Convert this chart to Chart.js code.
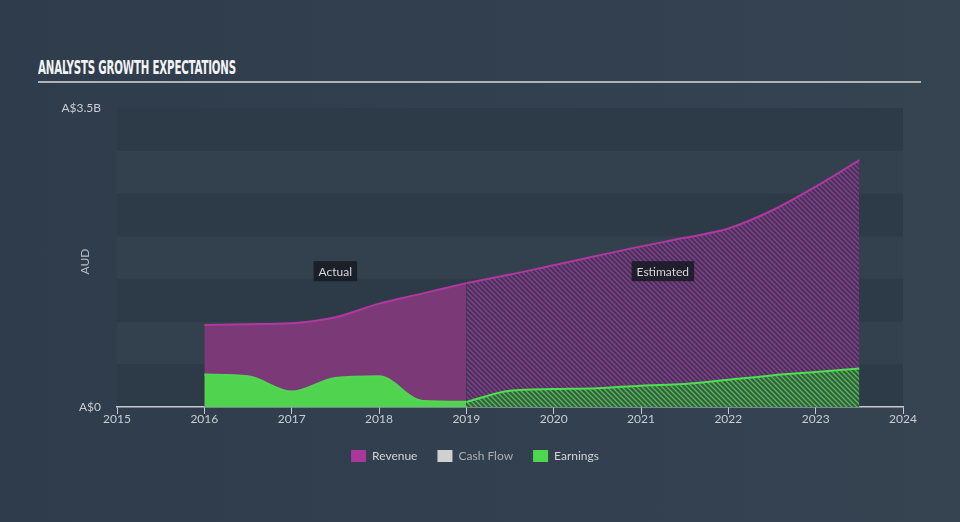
<!DOCTYPE html>
<html>
<head>
<meta charset="utf-8">
<script src="https://cdn.jsdelivr.net/npm/chart.js@4.4.1/dist/chart.umd.min.js"></script>
<style>
    html, body { margin: 0; padding: 0; }
    body {
        width: 960px; height: 522px; overflow: hidden; position: relative;
        background: linear-gradient(90deg, #2f3c4b 0%, #334050 60%, #364351 100%);
        font-family: Lato, "Noto Sans", sans-serif;
    }
    #titulo {
        position: absolute; left: 38px; top: 55px;
        font-family: "DejaVu Sans Condensed", "DejaVu Sans", sans-serif;
        font-weight: bold; font-size: 20px; color: #f2f3f5;
        transform-origin: 0 0; white-space: nowrap; letter-spacing: -0.3px;
    }
    #linha {
        position: absolute; left: 38px; top: 81px; width: 883px; height: 2px;
        background: #aeb3b9;
    }
    #grafico { position: absolute; left: 0; top: 0; }
</style>
</head>
<body>
<div id="titulo">ANALYSTS GROWTH EXPECTATIONS</div>
<div id="linha"></div>
<canvas id="grafico" width="960" height="522"></canvas>
<script>
// Dados (A$ bilhões)
const anosReais = [2016, 2016.5, 2017, 2017.5, 2018, 2018.5, 2019];
const receitaReal = [0.96, 0.97, 0.98, 1.05, 1.21, 1.33, 1.45];
const lucroReal = [0.38, 0.36, 0.18, 0.34, 0.36, 0.07, 0.06];

const anosEstimados = [2019, 2019.5, 2020, 2020.5, 2021, 2021.5, 2022, 2022.5, 2023, 2023.5];
const receitaEstimada = [1.45, 1.55, 1.66, 1.77, 1.88, 1.98, 2.09, 2.30, 2.58, 2.89];
const lucroEstimado = [0.06, 0.19, 0.21, 0.22, 0.25, 0.27, 0.32, 0.37, 0.41, 0.45];

const rotulosY = { 0: "A$0", 3.5: "A$3.5B" };

// Ajusta a largura do título condensado
const titulo = document.getElementById("titulo");
titulo.style.transform = `scaleX(${198 / titulo.offsetWidth})`;

function pontos(anos, valores) {
    return anos.map((ano, i) => ({ x: ano, y: valores[i] }));
}

// Cria o padrão hachurado das áreas estimadas
function hachura(corFundo, corLinha) {
    const c = document.createElement("canvas");
    c.width = 5; c.height = 5;
    const g = c.getContext("2d");
    g.fillStyle = corFundo;
    g.fillRect(0, 0, 5, 5);
    g.strokeStyle = corLinha;
    g.lineWidth = 1.3;
    g.beginPath();
    g.moveTo(-1, -1); g.lineTo(6, 6);
    g.moveTo(-1, 4); g.lineTo(1, 6);
    g.moveTo(4, -1); g.lineTo(6, 1);
    g.stroke();
    return g.createPattern(c, "repeat");
}

const ctx = document.getElementById("grafico").getContext("2d");

// Faixas alternadas no fundo da área do gráfico
const faixas = {
    id: "faixas",
    beforeDraw(chart) {
        const { ctx, chartArea, scales } = chart;
        ctx.save();
        for (let i = 0; i < 7; i++) {
            const y1 = scales.y.getPixelForValue(i * 0.5);
            const y2 = scales.y.getPixelForValue((i + 1) * 0.5);
            ctx.fillStyle = i % 2 === 0 ? "#2d3a48" : "#33404e";
            ctx.fillRect(chartArea.left, y2, chartArea.right - chartArea.left, y1 - y2);
        }
        // rótulo do eixo Y
        ctx.translate(chartArea.left - 32, (chartArea.top + chartArea.bottom) / 2 + 4);
        ctx.rotate(-Math.PI / 2);
        ctx.fillStyle = "#b9bec5";
        ctx.font = "12px Lato";
        ctx.textAlign = "center";
        ctx.textBaseline = "middle";
        ctx.fillText("AUD", 0, 0);
        ctx.restore();
    }
};

// Etiquetas "Actual" e "Estimated"
const etiquetas = {
    id: "etiquetas",
    afterDatasetsDraw(chart) {
        const { ctx, scales } = chart;
        const itens = [["Actual", 2017.5], ["Estimated", 2021.25]];
        ctx.save();
        ctx.font = "12px Lato";
        ctx.textAlign = "center";
        ctx.textBaseline = "middle";
        itens.forEach(([texto, ano]) => {
            const x = scales.x.getPixelForValue(ano);
            const y = scales.y.getPixelForValue(1.59);
            const w = ctx.measureText(texto).width + 10;
            ctx.fillStyle = "rgba(22, 26, 34, 0.85)";
            ctx.fillRect(x - w / 2, y - 10, w, 20);
            ctx.fillStyle = "#d4d6da";
            ctx.fillText(texto, x, y + 1);
        });
        ctx.restore();
    }
};

new Chart(ctx, {
    type: "line",
    data: {
        datasets: [
            {
                label: "Revenue",
                data: pontos(anosEstimados, receitaEstimada),
                borderColor: "#b0389e",
                backgroundColor: hachura("#40385a", "#96388e"),
                legendColor: "#a8389a",
                fill: "origin",
                order: 1
            },
            {
                label: "Cash Flow",
                data: [],
                borderColor: "#cfcfcf",
                backgroundColor: "#cfcfcf",
                legendColor: "#d0d0d0",
                order: 2
            },
            {
                label: "Earnings",
                data: pontos(anosEstimados, lucroEstimado),
                borderColor: "#4fe04f",
                backgroundColor: hachura("#3a5a48", "#4cc24c"),
                legendColor: "#4fd64f",
                fill: "origin",
                order: 0
            },
            {
                label: "",
                data: pontos(anosReais, receitaReal),
                borderColor: "#b0389e",
                backgroundColor: "#7b3a77",
                fill: "origin",
                order: 1
            },
            {
                label: "",
                data: pontos(anosReais, lucroReal),
                borderColor: "#52d652",
                backgroundColor: "#50d450",
                fill: "origin",
                order: 0
            }
        ]
    },
    options: {
        responsive: false,
        animation: false,
        layout: { padding: { left: 47, top: 108, right: 57, bottom: 50 } },
        elements: {
            point: { radius: 0 },
            line: { borderWidth: 2, cubicInterpolationMode: "monotone" }
        },
        plugins: {
            tooltip: { enabled: false },
            legend: {
                position: "bottom",
                labels: {
                    color: "#c3c7cd",
                    font: { family: "Lato", size: 12 },
                    boxWidth: 15,
                    boxHeight: 12,
                    padding: 20,
                    filter: (item) => item.datasetIndex < 3,
                    sort: (a, b) => a.datasetIndex - b.datasetIndex,
                    generateLabels(chart) {
                        return chart.data.datasets.map((ds, i) => ({
                            text: ds.label,
                            fillStyle: ds.legendColor,
                            strokeStyle: ds.legendColor,
                            lineWidth: 0,
                            fontColor: i === 1 ? "#a9aeb5" : "#d0d3d8",
                            hidden: false,
                            datasetIndex: i
                        }));
                    }
                }
            }
        },
        scales: {
            x: {
                type: "linear",
                min: 2015,
                max: 2024,
                grid: { drawOnChartArea: false, color: "#c5cad0", tickLength: 7 },
                border: { color: "#c5cad0", width: 1.5 },
                ticks: {
                    stepSize: 1,
                    color: "#c8ccd2",
                    font: { family: "Lato", size: 12 },
                    padding: -2,
                    maxRotation: 0,
                    callback: (v) => String(v)
                },
                afterFit: (scale) => { scale.height = 23; }
            },
            y: {
                min: 0,
                max: 3.5,
                grid: { display: false },
                border: { display: false },
                ticks: {
                    stepSize: 0.5,
                    color: "#c8ccd2",
                    font: { family: "Lato", size: 12 },
                    padding: 8,
                    callback: (v) => rotulosY[v] || ""
                },
                afterFit: (scale) => { scale.width = 70; }
            }
        }
    },
    plugins: [faixas, etiquetas]
});
</script>
</body>
</html>
